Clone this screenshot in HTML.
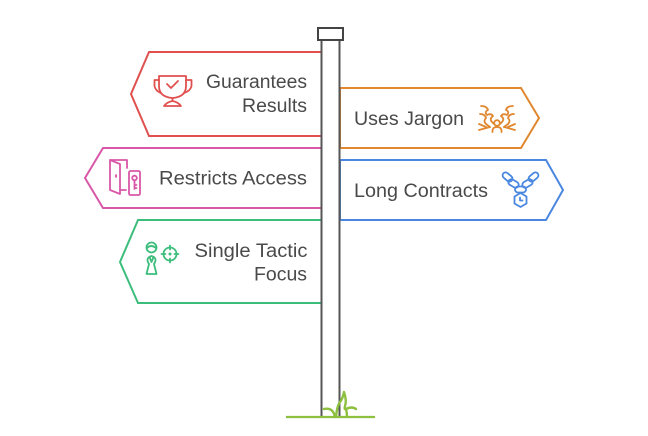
<!DOCTYPE html>
<html><head><meta charset="utf-8"><style>
html,body{margin:0;padding:0;background:#fff;}
svg{display:block;}
text{font-family:"Liberation Sans",Arial,sans-serif;font-size:19px;fill:#4a4a4a;}
</style></head><body>
<svg width="648" height="436" viewBox="0 0 648 436" xmlns="http://www.w3.org/2000/svg">
<g fill="#fff" stroke-width="2" stroke-linejoin="miter">
<polygon points="149,52 322,52 322,136 149,136 131,94" stroke="#e0504f"/>
<polygon points="340,88 521,88 539,118 521,148 340,148" stroke="#e0872f"/>
<polygon points="103,148 322,148 322,208 103,208 85,178" stroke="#d957a8"/>
<polygon points="340,160 546,160 563,190 546,220 340,220" stroke="#4a87e0"/>
<polygon points="138,220 322,220 322,303 138,303 120,262" stroke="#3cbd7c"/>
</g>
<!-- pole -->
<rect x="321.5" y="40" width="18" height="377" fill="#fff" stroke="#555" stroke-width="2"/>
<rect x="318" y="28" width="25" height="12" fill="#fff" stroke="#444" stroke-width="2"/>
<!-- ground and grass -->
<line x1="286" y1="417" x2="375" y2="417" stroke="#8dc03f" stroke-width="2.2"/>
<path d="M324,409 Q333,407 335,417 M336,417 Q337,406 340,402 Q343,398 344,392 Q347,401 345,406 Q344,410 346,409 Q352,406 356,409 M346,409 Q347,413 347,417" fill="none" stroke="#8dc03f" stroke-width="2.4" stroke-linejoin="round" stroke-linecap="round"/>
<!-- texts -->
<text x="307" y="88" text-anchor="end" textLength="101" lengthAdjust="spacingAndGlyphs">Guarantees</text>
<text x="307" y="112" text-anchor="end" textLength="65" lengthAdjust="spacingAndGlyphs">Results</text>
<text x="354" y="125" textLength="110" lengthAdjust="spacingAndGlyphs">Uses Jargon</text>
<text x="307" y="184.5" text-anchor="end" textLength="148" lengthAdjust="spacingAndGlyphs">Restricts Access</text>
<text x="354" y="197" textLength="134" lengthAdjust="spacingAndGlyphs">Long Contracts</text>
<text x="307.5" y="257" text-anchor="end" textLength="113" lengthAdjust="spacingAndGlyphs">Single Tactic</text>
<text x="307" y="280.5" text-anchor="end" textLength="53" lengthAdjust="spacingAndGlyphs">Focus</text>
<!-- trophy -->
<g fill="none" stroke="#e0504f" stroke-width="1.8" stroke-linecap="round" stroke-linejoin="round">
<path d="M159,76 H186 V86 Q186,97 172.5,98 Q159,97 159,86 Z"/>
<path d="M159,80 H154.5 V86 Q155.5,91 161,93"/>
<path d="M186,80 H191.5 V86 Q190.5,91 184,93"/>
<path d="M172.5,98 V101 Q167,102 164,106 H181 Q178,102 172.5,101"/>
<path d="M167,84 L171,88 L178,81"/>
</g>
<!-- jargon -->
<g fill="none" stroke="#e0872f" stroke-width="1.8" stroke-linecap="round" stroke-linejoin="round">
<path d="M481,106 Q487,106 488,110 Q484,112 487,115 Q491,113 493,116 Q489,119 492,122 L494,124"/>
<path d="M480,114 Q485,114 486,118 Q483,121 486,124 L490,127"/>
<path d="M479,124 L486,127 M479,130 L490,127"/>
<path d="M513,106 Q507,106 506,110 Q510,112 507,115 Q503,113 501,116 Q505,119 502,122 L500,124"/>
<path d="M514,114 Q509,114 508,118 Q511,121 508,124 L504,127"/>
<path d="M515,124 L508,127 M515,130 L504,127"/>
<circle cx="497" cy="123" r="2.8"/>
<path d="M492.5,132 Q492,127 497,127 Q502,127 501.5,132"/>
</g>
<!-- chain -->
<g fill="none" stroke="#4a87e0" stroke-width="1.8" stroke-linecap="round" stroke-linejoin="round">
<rect x="502" y="174" width="11" height="6" rx="3" transform="rotate(40 507.5 177)"/>
<rect x="508" y="180.5" width="11" height="6" rx="3" transform="rotate(30 513.5 183.5)"/>
<rect x="515" y="186.5" width="11" height="6" rx="3"/>
<rect x="522" y="180.5" width="11" height="6" rx="3" transform="rotate(-30 527.5 183.5)"/>
<rect x="528" y="174" width="11" height="6" rx="3" transform="rotate(-40 533.5 177)"/>
<polygon points="520.5,193 526.5,196.5 526.5,203.5 520.5,207 514.5,203.5 514.5,196.5"/>
<path d="M520,197.5 V200.5 H522.5"/>
</g>
<!-- door -->
<g fill="none" stroke="#d957a8" stroke-width="1.8" stroke-linecap="round" stroke-linejoin="round">
<path d="M110,160 H127 V168"/>
<path d="M110,160 L120,164 V194 L110,190 Z"/>
<path d="M120,190 H126"/>
<line x1="116" y1="175" x2="116" y2="177"/>
<rect x="129" y="171" width="11" height="24" rx="1.5"/>
<circle cx="134.5" cy="178" r="2.3"/>
<path d="M134.5,180.3 V189 M134.5,185 H136.5 M134.5,188 H136.5"/>
</g>
<!-- person + target -->
<g fill="none" stroke="#3cbd7c" stroke-width="1.8" stroke-linecap="round" stroke-linejoin="round">
<circle cx="151.5" cy="247.5" r="5"/>
<path d="M147,248 Q151,244 156,248"/>
<path d="M146.5,274 L149,264 Q145,258 151.5,256 Q158,258 154,264 L156.5,274 Z"/>
<path d="M149.5,257 L151.5,262 L153.5,257"/>
<circle cx="170" cy="254" r="6.5"/>
<path d="M170,245.5 V249.5 M170,258.5 V262.5 M161.5,254 H165.5 M174.5,254 H178.5"/>
<circle cx="170" cy="254" r="0.6" fill="#3cbd7c"/>
</g>
</svg>
</body></html>
